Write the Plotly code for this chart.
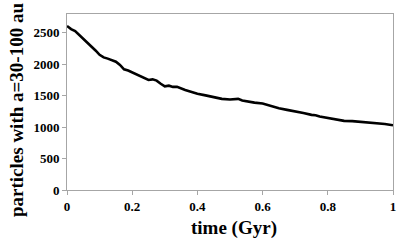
import plotly.graph_objects as go

time_gyr = [0.0, 0.0125, 0.025, 0.0375, 0.05, 0.0625, 0.075, 0.0875, 0.1, 0.1125,
            0.125, 0.1375, 0.15, 0.1625, 0.175, 0.1875, 0.2, 0.2125, 0.225, 0.2375,
            0.25, 0.2625, 0.275, 0.2875, 0.3, 0.3125, 0.325, 0.3375, 0.35, 0.3625,
            0.375, 0.3875, 0.4, 0.425, 0.45, 0.475, 0.5, 0.5125, 0.525, 0.5375,
            0.55, 0.575, 0.6, 0.625, 0.65, 0.675, 0.7, 0.725, 0.75, 0.7625,
            0.775, 0.8, 0.825, 0.85, 0.875, 0.9, 0.925, 0.95, 0.975, 1.0]
particles = [2610, 2560, 2530, 2470, 2400, 2340, 2290, 2220, 2150, 2110,
             2090, 2060, 2040, 1990, 1920, 1900, 1870, 1840, 1820, 1780,
             1750, 1760, 1740, 1690, 1650, 1660, 1640, 1640, 1610, 1590,
             1570, 1545, 1530, 1505, 1475, 1450, 1440, 1445, 1450, 1425,
             1410, 1390, 1375, 1335, 1300, 1275, 1255, 1225, 1195, 1190,
             1170, 1150, 1120, 1100, 1095, 1085, 1075, 1060, 1050, 1030]
x_ticks = [0, 0.2, 0.4, 0.6, 0.8, 1]
x_ticklabels = ["0", "0.2", "0.4", "0.6", "0.8", "1"]
y_ticks = [0, 500, 1000, 1500, 2000, 2500]
x_title = "time (Gyr)"
y_title = "particles with a=30-100 au"

FONT = "Liberation Serif, Times New Roman, serif"

fig = go.Figure()
fig.add_trace(go.Scatter(x=time_gyr, y=particles, mode="lines",
                         line=dict(color="black", width=2.6), showlegend=False,
                         hoverinfo="skip"))

fig.update_layout(
    width=415, height=247,
    margin=dict(l=67, r=22, t=14, b=57),
    paper_bgcolor="white", plot_bgcolor="white",
    font=dict(family=FONT, color="black", size=13, weight="bold"),
)
axis_common = dict(showgrid=False, zeroline=False, showline=True, mirror=True,
                   linecolor="#a6a6a6", linewidth=1, ticks="outside", ticklen=4,
                   tickcolor="#a6a6a6", automargin=False,
                   tickfont=dict(family=FONT, size=13, weight="bold", color="black"))
fig.update_xaxes(range=[0, 1], tickvals=x_ticks, ticktext=x_ticklabels, **axis_common)
fig.update_yaxes(range=[0, 2800], tickvals=y_ticks, **axis_common)

fig.add_annotation(text=x_title, xref="paper", yref="paper", x=0.5, y=0,
                   xanchor="center", yanchor="middle", xshift=4, yshift=-38,
                   showarrow=False,
                   font=dict(family=FONT, size=19, weight="bold", color="black"))
fig.add_annotation(text=y_title, xref="paper", yref="paper", x=0, y=0.5,
                   xanchor="center", yanchor="middle", xshift=-51, yshift=-8,
                   textangle=-90, showarrow=False,
                   font=dict(family=FONT, size=19, weight="bold", color="black"))

fig.write_html("out.html", config={"displayModeBar": False},
               post_script="document.body.style.margin='0';")
